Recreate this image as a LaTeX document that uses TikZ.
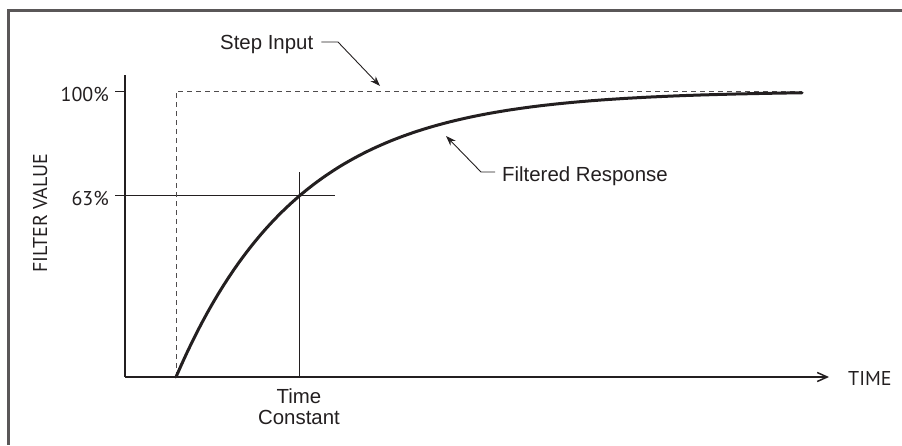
\documentclass[tikz,border=0pt]{standalone}
\usepackage{fontspec}
\setmainfont{Liberation Sans}
\newfontfamily\axisfont{PT Sans}
\usetikzlibrary{arrows.meta}
\definecolor{ink}{HTML}{231F20}
\begin{document}
\begin{tikzpicture}[x=1pt,y=-1pt,
  lbl/.style={inner sep=0pt,text=ink,font=\fontsize{20.4}{21}\selectfont},
  axlbl/.style={inner sep=0pt,text=ink,font=\axisfont\fontsize{20}{21}\selectfont},
  axisline/.style={draw=ink,line width=1.5pt},
  thinline/.style={draw=ink,line width=1pt},
  stepline/.style={draw=ink!80,line width=1pt,dash pattern=on 5pt off 4pt},
  curveline/.style={draw=ink,line width=3pt},
  leader/.style={draw=ink,line width=0.9pt},
  frameline/.style={draw=ink!75,line width=2.2pt}]
\useasboundingbox (0,0) rectangle (902,445);
% frame
\draw[frameline] (902,10.5) -- (8.5,10.5) -- (8.5,445);
% coordinates
\coordinate (yTop) at (125,75);
\coordinate (orig) at (125,377);
\coordinate (xEnd) at (829,377);
\coordinate (t100) at (115,91);
\coordinate (t63) at (115,195);
\coordinate (e63) at (335,195);
\coordinate (stepBot) at (176,377);
\coordinate (stepTop) at (176,91);
\coordinate (stepEnd) at (802,91);
\coordinate (tcTop) at (299,172);
\coordinate (tcBot) at (299,377);
% axes
\draw[axisline] (yTop) -- (orig);
\draw[axisline,-{Straight Barb[length=10pt,width=9pt]}] (orig) -- (xEnd);
\draw[thinline] (t100) -- (yTop |- t100);
\draw[thinline] (t63) -- (e63);
\draw[thinline] (tcTop) -- (tcBot);
% step input
\draw[stepline] (stepBot) -- (stepTop) -- (stepEnd);
% filtered response
\draw[curveline,line cap=round] plot[domain=0:626,samples=120] ({176+\x},{377-286*(1-exp(-\x/123))});
% labels
\node[axlbl,anchor=east] (l100) at (109,94) {100\%};
\node[axlbl,anchor=east] (l63) at (109,198) {63\%};
\node[axlbl,rotate=90] (fv) at (40,213) {FILTER VALUE};
\node[axlbl,anchor=west] (time) at (848,378) {TIME};
\node[lbl,align=center] (tc) at (299,407) {Time\\Constant};
\node[lbl,anchor=base west] (si) at (220,49) {Step Input};
\node[lbl,anchor=base west] (fr) at (502,181) {Filtered Response};
% leaders
\coordinate (siK) at (338,42);
\coordinate (siTip) at (380,86);
\draw[leader,-{Stealth[length=10pt,width=7pt]}] ([xshift=8pt]si.east |- siK) -- (siK) -- (siTip);
\coordinate (frK) at (481,172);
\coordinate (frTip) at (446,136);
\draw[leader,-{Stealth[length=10pt,width=7pt]}] ([xshift=-7pt]fr.west |- frK) -- (frK) -- (frTip);
\end{tikzpicture}
\end{document}
